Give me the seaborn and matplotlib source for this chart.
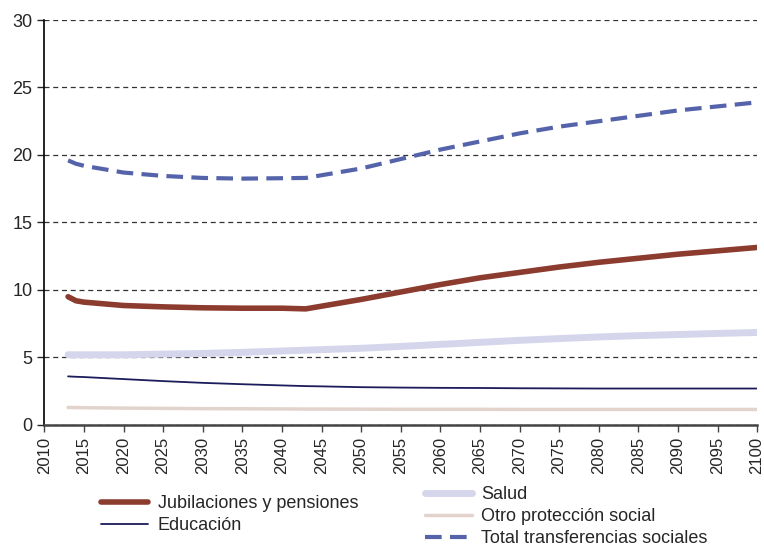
import seaborn as sns
import matplotlib.pyplot as plt
import pandas as pd
from matplotlib.lines import Line2D

# ----------------------------------------------------------
# DATA (% of GDP)
# ----------------------------------------------------------
years = [2013, 2014, 2015, 2020, 2025, 2030, 2035, 2040, 2043, 2045, 2050,
         2055, 2060, 2065, 2070, 2075, 2080, 2085, 2090, 2095, 2100]

jubilaciones = [9.5, 9.2, 9.1, 8.85, 8.75, 8.68, 8.65, 8.65, 8.6, 8.8, 9.3,
                9.85, 10.4, 10.9, 11.3, 11.7, 12.05, 12.35, 12.65, 12.9, 13.15]
educacion = [3.6, 3.57, 3.55, 3.4, 3.25, 3.12, 3.02, 2.93, 2.88, 2.86, 2.8,
             2.77, 2.75, 2.74, 2.72, 2.71, 2.7, 2.7, 2.7, 2.7, 2.7]
salud = [5.2, 5.2, 5.2, 5.2, 5.25, 5.3, 5.38, 5.48, 5.54, 5.58, 5.68,
         5.82, 5.97, 6.12, 6.27, 6.4, 6.52, 6.62, 6.7, 6.78, 6.85]
otro = [1.3, 1.29, 1.28, 1.25, 1.23, 1.21, 1.2, 1.19, 1.18, 1.18, 1.17,
        1.16, 1.16, 1.16, 1.15, 1.15, 1.15, 1.15, 1.15, 1.15, 1.15]
total = [19.6, 19.35, 19.2, 18.7, 18.45, 18.3, 18.25, 18.28, 18.3, 18.5, 19.0,
         19.7, 20.4, 21.0, 21.6, 22.1, 22.5, 22.9, 23.3, 23.6, 23.9]

series = {
    "Jubilaciones y pensiones": jubilaciones,
    "Educación": educacion,
    "Salud": salud,
    "Otro protección social": otro,
    "Total transferencias sociales": total,
}

styles = {
    "Jubilaciones y pensiones": dict(color="#8c3b2f", lw=4, ls="-"),
    "Educación": dict(color="#1c1c5c", lw=1.3, ls="-"),
    "Salud": dict(color="#d5d6ec", lw=5, ls="-"),
    "Otro protección social": dict(color="#e2d3cc", lw=2.5, ls="-"),
    "Total transferencias sociales": dict(color="#5564aa", lw=3, ls=(0, (4, 2))),
}

df = pd.DataFrame({"year": years, **series})

# ----------------------------------------------------------
# PLOT
# ----------------------------------------------------------
sns.set_style("white")
plt.rcParams["font.family"] = ["Liberation Sans", "DejaVu Sans"]

fig = plt.figure(figsize=(7.64, 5.48), dpi=100)
ax = fig.add_axes([0.058, 0.2245, 0.933, 0.739])

draw_order = ["Otro protección social", "Educación", "Salud",
              "Jubilaciones y pensiones", "Total transferencias sociales"]
for name in draw_order:
    st = styles[name]
    sns.lineplot(data=df, x="year", y=name, ax=ax, color=st["color"],
                 linewidth=st["lw"], linestyle=st["ls"], legend=False)

ax.set_xlim(2010, 2100)
ax.set_ylim(0, 30)
ax.set_xticks(range(2010, 2101, 5))
ax.set_yticks(range(0, 31, 5))
ax.tick_params(axis="x", labelrotation=90, labelsize=12, direction="out",
               length=5, width=1, color="#444444", bottom=True)
ax.tick_params(axis="y", labelsize=13, direction="out", length=5, width=1,
               left=True)
ax.set_xlabel("")
ax.set_ylabel("")
ax.yaxis.grid(True, linestyle=(0, (4, 3)), color="#333333", linewidth=0.9)
ax.set_axisbelow(True)

for s in ["top", "right"]:
    ax.spines[s].set_visible(False)
ax.spines["left"].set_color("black")
ax.spines["left"].set_linewidth(1.2)
ax.spines["bottom"].set_color("#444444")
ax.spines["bottom"].set_linewidth(1.8)


def handle(name):
    st = styles[name]
    return Line2D([], [], color=st["color"], lw=st["lw"], ls=st["ls"])


left_names = ["Jubilaciones y pensiones", "Educación"]
right_names = ["Salud", "Otro protección social", "Total transferencias sociales"]

leg_kw = dict(loc="upper left", frameon=False, fontsize=13, handlelength=2.65,
              handletextpad=0.5, labelspacing=0.28, borderaxespad=0,
              borderpad=0.2)
fig.legend([handle(n) for n in left_names], left_names,
           bbox_to_anchor=(0.127, 0.103), **leg_kw)
fig.legend([handle(n) for n in right_names], right_names,
           bbox_to_anchor=(0.551, 0.12), **leg_kw)

fig.savefig("out.png", dpi=100)
